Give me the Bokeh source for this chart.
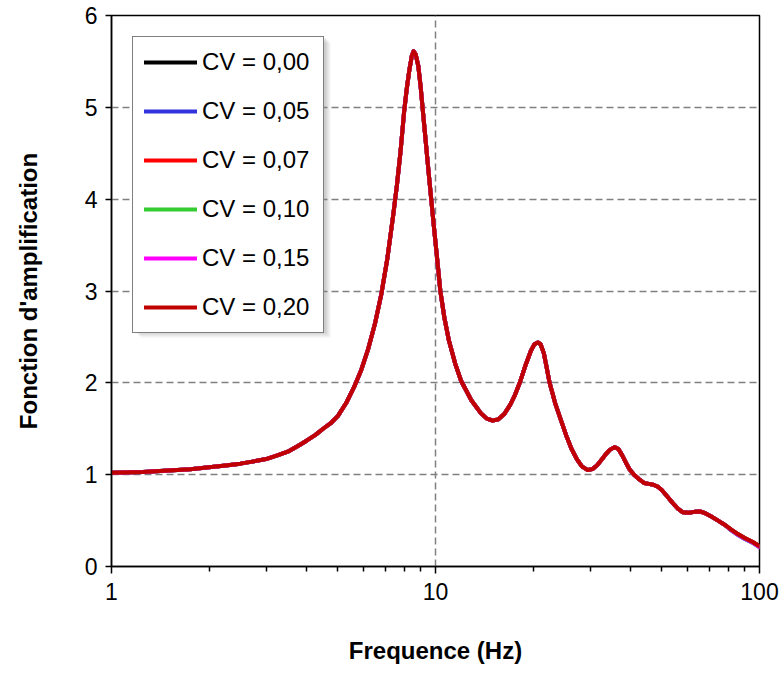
from bokeh.plotting import figure
from bokeh.models import FixedTicker, Legend, LegendItem, BoxAnnotation, BasicTickFormatter
from bokeh.embed import file_html
from bokeh.resources import INLINE

# ---------------- data ----------------
freq = [1.0, 1.25, 1.5, 1.75, 2.0, 2.25, 2.5, 2.75, 3.0, 3.25, 3.5, 3.75, 4.0, 4.25,
        4.5, 4.75, 5.0, 5.3, 5.6, 5.9, 6.2, 6.5, 6.8, 7.1, 7.4, 7.6, 7.8, 8.0, 8.15,
        8.3, 8.45, 8.56, 8.68, 8.85, 9.0, 9.12, 9.3, 9.5, 9.7, 9.9, 10.1, 10.35,
        10.65, 11.0, 11.5, 12.0, 12.9, 13.8, 14.4, 15.0, 15.6, 16.3, 17.0, 17.6,
        18.2, 19.0, 19.7, 20.2, 20.7, 21.1, 21.6, 22.0, 22.5, 23.4, 24.4, 25.3,
        26.3, 27.3, 28.3, 29.5, 30.5, 31.5, 32.5, 33.5, 34.5, 35.7, 36.7, 37.7,
        38.7, 39.7, 41.0, 42.5, 44.0, 45.5, 47.0, 48.5, 50.0, 52.0, 54.0, 56.0,
        58.0, 60.5, 63.0, 65.5, 68.0, 71.0, 74.5, 78.0, 82.0, 86.0, 90.0, 95.0, 100.0]

amp_main = [1.02, 1.03, 1.045, 1.06, 1.08, 1.10, 1.12, 1.145, 1.17, 1.21, 1.25, 1.31,
            1.37, 1.43, 1.50, 1.56, 1.64, 1.78, 1.95, 2.14, 2.37, 2.64, 2.96, 3.35,
            3.82, 4.15, 4.52, 4.95, 5.20, 5.40, 5.56, 5.61, 5.58, 5.45, 5.22, 5.00,
            4.68, 4.33, 4.00, 3.68, 3.38, 3.00, 2.71, 2.46, 2.21, 2.02, 1.81, 1.67,
            1.61, 1.59, 1.60, 1.66, 1.76, 1.87, 2.00, 2.20, 2.35, 2.42, 2.44, 2.42,
            2.32, 2.18, 2.00, 1.78, 1.59, 1.43, 1.28, 1.17, 1.09, 1.05, 1.06, 1.10,
            1.16, 1.22, 1.27, 1.30, 1.28, 1.21, 1.13, 1.06, 1.00, 0.95, 0.91, 0.90,
            0.89, 0.87, 0.83, 0.76, 0.69, 0.63, 0.59, 0.585, 0.595, 0.60, 0.58, 0.545,
            0.50, 0.455, 0.40, 0.35, 0.31, 0.27, 0.22]

# small differences visible only at the high-frequency tail (last 5 points)
tail_cv000 = [0.40, 0.35, 0.31, 0.27, 0.22]
tail_cv005 = [0.39, 0.34, 0.30, 0.26, 0.21]
tail_cv007 = [0.40, 0.35, 0.31, 0.27, 0.22]
tail_cv010 = [0.395, 0.345, 0.305, 0.265, 0.215]
tail_cv015 = [0.395, 0.345, 0.305, 0.265, 0.212]
tail_cv020 = [0.40, 0.35, 0.31, 0.27, 0.22]

labels = ["CV = 0,00", "CV = 0,05", "CV = 0,07", "CV = 0,10", "CV = 0,15", "CV = 0,20"]
colors = ["#000000", "#3333DD", "#FF0000", "#33CC33", "#FF00FF", "#C00000"]
tails = [tail_cv000, tail_cv005, tail_cv007, tail_cv010, tail_cv015, tail_cv020]

x_ticks = [1, 10, 100]
x_minor = [2, 3, 4, 5, 6, 7, 8, 9, 20, 30, 40, 50, 60, 70, 80, 90]
y_ticks = [0, 1, 2, 3, 4, 5, 6]

FONT = "Liberation Sans"

p = figure(width=781, height=674, x_axis_type="log", x_range=(1, 100), y_range=(0, 6),
           output_backend="svg", toolbar_location=None,
           min_border_left=111, min_border_right=22, min_border_top=15, min_border_bottom=108)
p.background_fill_color = "white"
p.border_fill_color = "white"
p.outline_line_color = "black"
p.outline_line_width = 1.5

# axes
p.xaxis.ticker = FixedTicker(ticks=x_ticks, minor_ticks=x_minor)
p.xaxis.formatter = BasicTickFormatter()
p.xaxis.major_label_overrides = {1: "1", 10: "10", 100: "100"}
p.yaxis.ticker = FixedTicker(ticks=y_ticks)
for ax in (p.xaxis[0], p.yaxis[0]):
    ax.axis_line_color = "black"
    ax.axis_line_width = 1.5
    ax.major_tick_line_color = "black"
    ax.major_tick_line_width = 1.5
    ax.minor_tick_line_color = "black"
    ax.minor_tick_line_width = 1.5
    ax.major_tick_in = 0
    ax.minor_tick_in = 0
    ax.major_label_text_font = FONT
    ax.major_label_text_font_size = "23px"
    ax.major_label_text_color = "black"
    ax.axis_label_text_font = FONT
    ax.axis_label_text_font_size = "24px"
    ax.axis_label_text_font_style = "bold"
    ax.axis_label_text_color = "black"

p.xaxis.major_tick_out = 7
p.xaxis.minor_tick_out = 5
p.xaxis.major_label_standoff = 9
p.xaxis.axis_label = "Frequence (Hz)"
p.xaxis.axis_label_standoff = 34

p.yaxis.major_tick_out = 6
p.yaxis.minor_tick_out = 0
p.yaxis.major_label_standoff = 8
p.yaxis.axis_label = "Fonction d'amplification"
p.yaxis.axis_label_standoff = 40

# grid
for g in (p.xgrid[0], p.ygrid[0]):
    g.grid_line_color = "#808080"
    g.grid_line_width = 1.5
    g.grid_line_dash = "7 4"
p.xgrid.ticker = FixedTicker(ticks=[10])
p.ygrid.ticker = FixedTicker(ticks=[1, 2, 3, 4, 5])

# curves
items = []
for lab, col, tail in zip(labels, colors, tails):
    ys = amp_main[:-len(tail)] + tail
    r = p.line(freq, ys, line_color=col, line_width=4, line_join="round", line_cap="round")
    items.append(LegendItem(label=lab, renderers=[r]))

# legend shadow (frame-relative screen units)
for dx, alpha in [(7, 0.10), (5, 0.15), (3, 0.2)]:
    p.add_layout(BoxAnnotation(left=22 + dx, right=212 + dx, top=531 - dx, bottom=236 - dx,
                               left_units="screen", right_units="screen",
                               top_units="screen", bottom_units="screen",
                               fill_color="#808080", fill_alpha=alpha, line_color=None))

legend = Legend(items=items, location="top_left", margin=21,
                border_line_color="black", border_line_width=1.5,
                background_fill_color="white", background_fill_alpha=1.0,
                padding=11, spacing=21, glyph_height=28, glyph_width=53,
                label_height=28, label_width=110, label_standoff=5,
                label_text_font=FONT, label_text_font_size="24px",
                label_text_color="black")
p.add_layout(legend)

open("out.html", "w").write(file_html(p, INLINE))
